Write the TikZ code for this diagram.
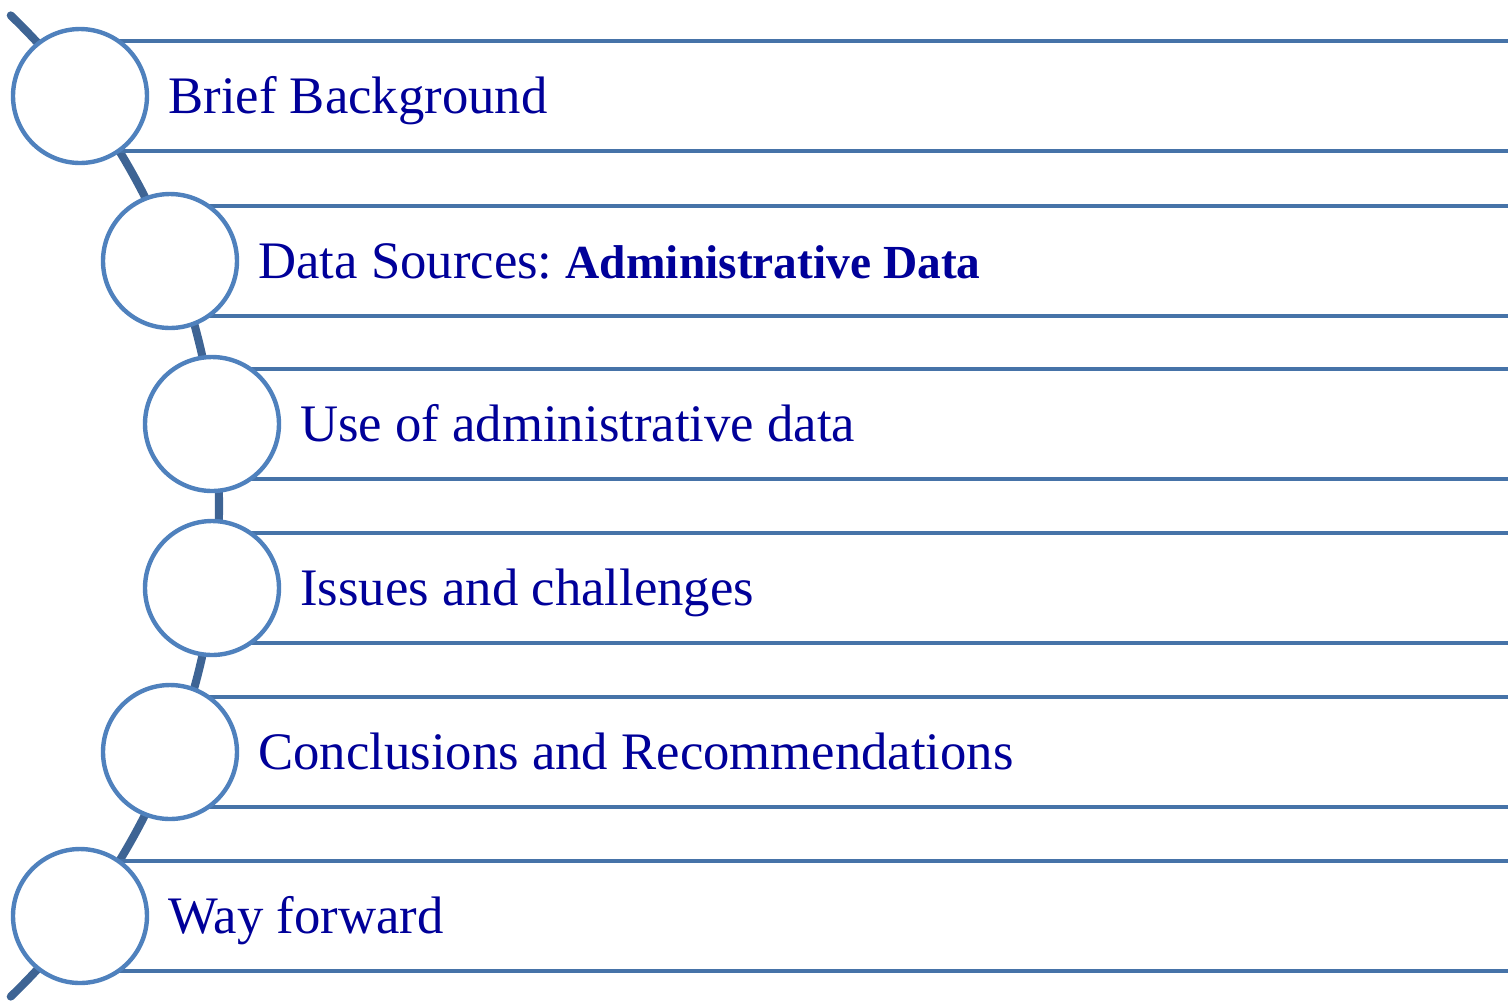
\documentclass[tikz,border=0pt]{standalone}
\usepackage{fontspec}
\setmainfont{Liberation Serif}

\definecolor{ringblue}{RGB}{79,129,189}
\definecolor{bandblue}{RGB}{70,115,168}
\definecolor{spineblue}{RGB}{62,100,148}
\definecolor{itemblue}{RGB}{0,0,153}

\newcommand{\keyword}[1]{{\fontsize{27}{32}\selectfont\bfseries #1}}

\begin{document}
\begin{tikzpicture}[x=0.02cm, y=-0.02cm,
        spine/.style={draw=spineblue, line width=4.6pt, line cap=round},
        band/.style={draw=bandblue, line width=2.3pt},
        stop/.style={circle, draw=ringblue, line width=2.5pt, fill=white,
            minimum size=2.68cm, inner sep=0pt},
        itemtext/.style={anchor=base west, inner sep=0pt, text=itemblue,
            font=\fontsize{30}{36}\selectfont}]

    \useasboundingbox (0,0) rectangle (1508,1002);

    % curved spine behind the stops
    \coordinate (hub) at (-463,506);
    \draw[spine] (hub) ++(-46:682) arc[start angle=-46, end angle=46, radius=682];

    % one band, one stop and one caption per row
    \foreach \n/\cx/\cy/\txt in {
            1/80/96/{Brief Background},
            2/170/261/{Data Sources:\ \keyword{Administrative Data}},
            3/212/424/{Use of administrative data},
            4/212/588/{Issues and challenges},
            5/170/752/{Conclusions and Recommendations},
            6/80/916/{Way forward}} {
        \draw[band] (\cx,\cy-55) -- (1508,\cy-55);
        \draw[band] (\cx,\cy+55) -- (1508,\cy+55);
        \node[stop] (stop\n) at (\cx,\cy) {};
        \node[itemtext] (item\n) at (\cx+88,\cy+17) {\txt};
    }
\end{tikzpicture}
\end{document}
